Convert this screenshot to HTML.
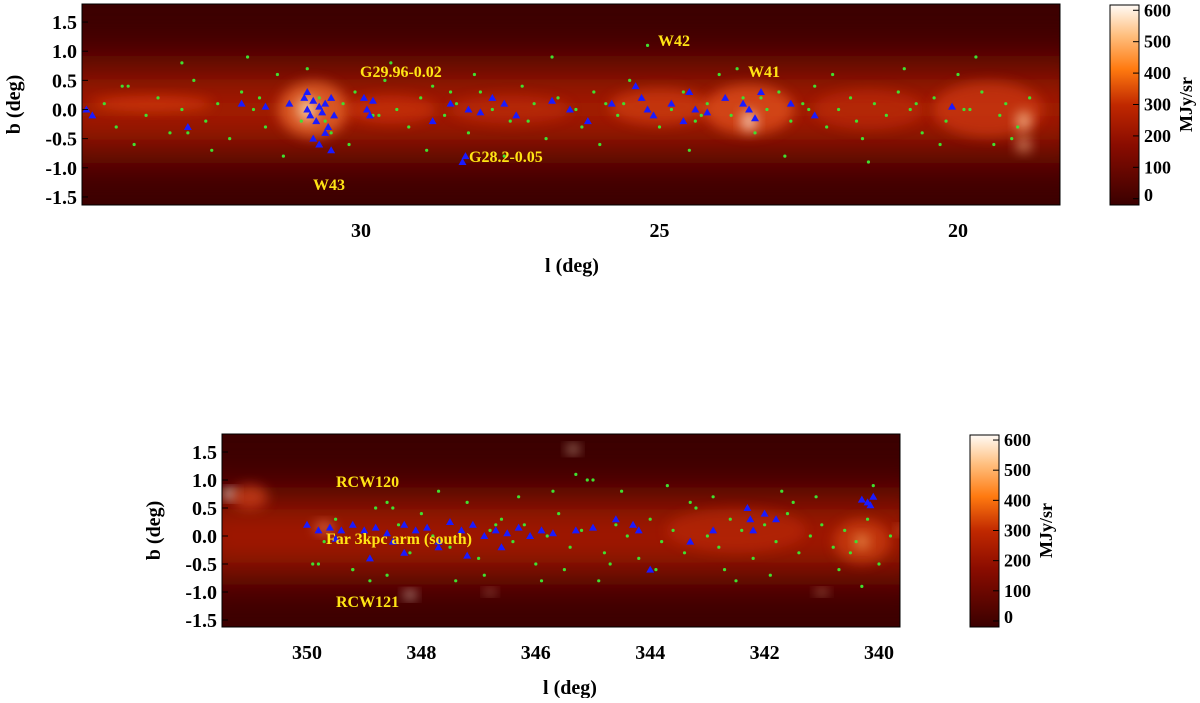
<!DOCTYPE html>
<html><head><meta charset="utf-8">
<style>
body{margin:0;background:#fff;width:1200px;height:698px;overflow:hidden;font-family:"Liberation Serif",serif;font-weight:bold}
svg text{font-family:"Liberation Serif",serif;font-weight:bold}
</style></head>
<body>
<svg id="fig" width="1200" height="698" viewBox="0 0 1200 698" xmlns="http://www.w3.org/2000/svg">
<defs>
<filter id="blur8" x="-50%" y="-50%" width="200%" height="200%"><feGaussianBlur stdDeviation="6"/></filter>
<filter id="blur20" x="-50%" y="-50%" width="200%" height="200%"><feGaussianBlur stdDeviation="18"/></filter>
<linearGradient id="cbar" x1="0" y1="1" x2="0" y2="0">
<stop offset="0" stop-color="#3a0000"/><stop offset="0.3" stop-color="#8a0c00"/><stop offset="0.5" stop-color="#c02800"/>
<stop offset="0.68" stop-color="#ff7a10"/><stop offset="0.85" stop-color="#ffc080"/><stop offset="1" stop-color="#fffaf5"/></linearGradient>
<linearGradient id="bandT" x1="0" y1="0" x2="0" y2="1">
<stop offset="0" stop-color="#3c0000"/><stop offset="0.25" stop-color="#760c00"/><stop offset="0.5" stop-color="#b82200"/>
<stop offset="0.75" stop-color="#760c00"/><stop offset="1" stop-color="#3c0000"/></linearGradient>
<clipPath id="clipT"><rect x="82" y="4" width="978" height="201"/></clipPath>
<clipPath id="clipB"><rect x="222" y="434" width="678" height="193"/></clipPath>
</defs>
<g id="top"></g>
<g id="bot"></g>
</svg>
<script>
// ---- Top panel data (l, b in degrees) ----
const topGreenL=[34.3,34.1,33.9,33.6,33.4,33.2,33.0,32.8,32.6,32.4,32.2,32.0,31.8,31.6,31.4,31.2,31.0,30.7,30.5,30.3,30.1,29.8,29.6,29.4,29.2,29.0,28.8,28.6,28.4,28.2,28.0,27.8,27.5,27.3,27.1,26.9,26.7,26.5,26.3,26.1,25.9,25.7,25.5,25.3,25.0,24.8,24.6,24.4,24.2,24.0,23.8,23.6,23.4,23.2,23.0,22.8,22.6,22.4,22.2,22.0,21.8,21.6,21.4,21.2,21.0,20.8,20.6,20.4,20.2,20.0,19.8,19.6,19.4,19.2,19.0,18.8,33.8,33.0,32.5,31.9,31.3,30.9,30.2,29.5,28.9,28.1,27.6,26.8,26.0,25.2,24.5,23.7,22.9,22.1,21.5,20.9,20.3,19.7,19.1,34.0,32.9,31.7,30.6,29.7,28.5,27.2,26.4,25.6,24.3,23.3,22.5,21.7,20.7,19.9,19.3];
const topGreenB=[0.1,-0.3,0.4,-0.1,0.2,-0.4,0.0,0.5,-0.2,0.1,-0.5,0.3,0.0,-0.3,0.6,0.1,-0.2,0.2,-0.4,0.1,0.3,-0.1,0.5,0.0,-0.3,0.2,0.4,-0.1,0.1,-0.4,0.3,0.0,-0.2,0.4,0.1,-0.5,0.2,0.0,-0.3,0.3,0.1,-0.1,0.5,0.2,-0.3,0.0,0.3,-0.2,0.1,0.6,-0.1,0.2,-0.4,0.0,0.3,-0.2,0.1,0.4,-0.3,0.0,0.2,-0.5,0.1,-0.1,0.3,0.0,-0.4,0.2,-0.2,0.6,0.0,0.3,-0.6,0.1,-0.3,0.2,-0.6,0.8,-0.7,0.9,-0.8,0.7,-0.6,0.8,-0.7,0.6,-0.8,0.9,-0.6,1.1,-0.7,0.7,-0.8,0.6,-0.9,0.7,-0.6,0.9,-0.5,0.4,-0.4,0.2,-0.2,-0.1,0.3,-0.2,0.0,0.1,-0.1,0.2,0.0,-0.2,0.1,0.0,-0.1,0.2];
const topBlueL=[34.6,34.5,32.9,32.0,31.6,31.2,30.95,30.9,30.85,30.8,30.75,30.7,30.65,30.6,30.55,30.5,30.45,30.8,30.7,30.6,30.5,30.9,29.95,29.9,29.85,29.8,28.8,28.5,28.3,28.25,28.2,28.0,27.8,27.6,27.4,26.8,26.5,26.2,25.8,25.4,25.3,25.2,25.1,24.8,24.6,24.5,24.4,24.2,23.9,23.6,23.5,23.4,23.3,22.8,22.4,20.1];
const topBlueB=[0.0,-0.1,-0.3,0.1,0.05,0.1,0.2,0.0,-0.1,0.15,-0.2,0.05,-0.05,0.1,-0.3,0.2,-0.1,-0.5,-0.6,-0.4,-0.7,0.3,0.2,0.0,-0.1,0.15,-0.2,0.1,-0.9,-0.8,0.0,-0.05,0.2,0.1,-0.1,0.15,0.0,-0.2,0.1,0.4,0.2,0.0,-0.1,0.1,-0.2,0.3,0.0,-0.05,0.2,0.1,0.0,-0.15,0.3,0.1,-0.1,0.05];
// ---- Bottom panel data ----
const botGreenL=[349.9,349.7,349.5,349.2,349.0,348.8,348.6,348.4,348.2,348.0,347.8,347.5,347.2,347.0,346.8,346.6,346.4,346.2,346.0,345.8,345.6,345.4,345.2,345.0,344.8,344.6,344.4,344.2,344.0,343.8,343.6,343.4,343.2,343.0,342.8,342.6,342.4,342.2,342.0,341.8,341.6,341.4,341.2,341.0,340.8,340.6,340.4,340.2,340.0,339.8,348.6,348.5,349.2,348.9,345.3,345.1,346.7,345.9,344.5,343.9,342.9,341.9,341.1,340.3,347.4,346.3,345.5,344.7,343.3,342.5,341.5,340.7,340.1,349.8,347.7,346.9,345.7,344.9,343.7,342.7,341.7,340.5];
const botGreenB=[-0.5,-0.1,0.3,-0.6,0.1,0.5,-0.7,0.2,-0.3,0.4,0.0,-0.2,0.6,-0.4,0.1,0.3,-0.1,0.2,-0.5,0.0,0.4,-0.2,0.1,1.0,-0.3,0.2,0.0,-0.4,0.3,-0.1,0.1,-0.3,0.5,0.0,-0.2,0.3,0.1,-0.4,0.2,-0.1,0.4,-0.3,0.0,0.2,-0.2,0.1,-0.1,0.3,-0.5,0.0,0.6,0.5,-0.6,-0.8,1.1,1.0,0.2,-0.8,0.8,-0.6,0.7,-0.7,0.7,-0.9,-0.8,0.7,-0.6,-0.5,0.6,-0.8,0.6,-0.6,0.9,-0.5,0.8,-0.7,0.8,-0.8,0.9,-0.6,0.8,-0.3];
const botBlueL=[350.0,349.8,349.6,349.4,349.2,349.0,348.8,348.6,348.5,348.3,348.1,347.9,347.7,347.5,347.3,347.1,346.9,346.7,346.5,346.3,346.1,345.9,345.7,345.3,345.0,344.6,344.3,344.2,344.0,343.3,342.9,342.3,342.25,342.2,342.0,341.8,340.3,340.2,340.15,340.1,349.5,348.9,348.3,347.7,347.2,346.6];
const botBlueB=[0.2,0.1,0.15,0.1,0.2,0.1,0.15,0.05,-0.1,0.2,0.1,0.15,-0.2,0.25,0.1,0.2,0.0,0.1,0.05,0.15,0.0,0.1,0.05,0.1,0.15,0.3,0.2,0.1,-0.6,-0.1,0.1,0.5,0.3,0.1,0.4,0.3,0.65,0.6,0.55,0.7,-0.05,-0.4,-0.3,-0.1,-0.35,-0.2];
const cbTicks=[0,100,200,300,400,500,600];
const topYTicks=[1.5,1.0,0.5,0.0,-0.5,-1.0,-1.5];
const topXTicks=[30,25,20];
const botXTicks=[350,348,346,344,342,340];
const NS="http://www.w3.org/2000/svg";
function mk(tag,attrs,parent){const e=document.createElementNS(NS,tag);for(const k in attrs)e.setAttribute(k,attrs[k]);parent.appendChild(e);return e;}
function txt(s,x,y,size,parent,anchor,fill){const t=mk('text',{x:x,y:y,'font-size':size,'text-anchor':anchor||'middle',fill:fill||'#000'},parent);t.textContent=s;return t;}

function panel(g,P){
  const X=l=>P.x0+(P.l0-l)*P.sx, Y=b=>P.y0-b*P.sy;
  const img=mk('g',{'clip-path':P.clip},g);
  
  
  mk('rect',{x:P.L,y:P.T,width:P.W,height:P.H,fill:'#3c0000'},img);
  mk('rect',{x:P.L-30,y:Y(P.bw),width:P.W+60,height:Y(-P.bw)-Y(P.bw),fill:'url(#bandT)',filter:'url(#blur20)'},img);
  P.blobs.forEach(bb=>mk('ellipse',{cx:X(bb[0]),cy:Y(bb[1]),rx:bb[2],ry:bb[3],fill:bb[4],opacity:bb[5],filter:'url(#blur8)'},img));
  const gg=mk('g',{},img);
  
  
  P.gl.forEach((l,i)=>{const c=mk('circle',{cx:X(l),cy:Y(P.gb[i]),r:1.6,fill:'#40e030'},gg);
    
    });
  const bg=mk('g',{},img);
  
  
  P.bl.forEach((l,i)=>{const x=X(l),y=Y(P.bb[i]);const p=mk('polygon',{points:`${x},${y-4} ${x-4},${y+3} ${x+4},${y+3}`,fill:'#1a1aff'},bg);
    
    });
  const fr=mk('rect',{x:P.L,y:P.T,width:P.W,height:P.H,fill:'none',stroke:'#000','stroke-width':1},g);
  
  
  topYTicks.forEach(b=>{const t=txt(b.toFixed(1),P.L-5,Y(b)+7,20,g,'end');
    
    
    mk('line',{x1:P.L,x2:P.L+6,y1:Y(b),y2:Y(b),stroke:'#000'},g);});
  P.xt.forEach(l=>{const t=txt(String(l),X(l),P.T+P.H+32,20,g);
    
    });
  const yt=txt('b (deg)',0,0,20,g);yt.setAttribute('transform',`translate(${P.L-62},${P.T+P.H/2}) rotate(-90)`);
  
  
  const xt=txt('l (deg)',P.xtitle,P.T+P.H+67,20,g);
  
  
  P.labels.forEach(a=>{const t=txt(a[0],a[1],a[2],16,g,'start','#ffe414');
    
    });
  const cb=mk('rect',{x:P.cbx,y:P.T+1,width:29,height:P.H-1,fill:'url(#cbar)',stroke:'#000'},g);
  
  
  cbTicks.forEach(v=>{const y=P.T+P.H-(v+20)/640*P.H; const ty=v===0?P.T+P.H-4:y+6;
    const t=txt(String(v),P.cbx+34,ty,18,g,'start');
    
    
    mk('line',{x1:P.cbx+23,x2:P.cbx+29,y1:y,y2:y,stroke:'#000'},g);});
  const u=txt('MJy/sr',0,0,18,g);u.setAttribute('transform',`translate(${P.cbx+82},${P.T+P.H/2}) rotate(-90)`);
  
  
}
panel(document.getElementById('top'),{L:82,T:4,W:978,H:201,x0:361,l0:30,sx:59.7,y0:109.5,sy:58.3,clip:'url(#clipT)',bw:1.2,
  gl:topGreenL,gb:topGreenB,bl:topBlueL,bb:topBlueB,xt:topXTicks,xtitle:572,cbx:1110,
  blobs:[[33.5,0.1,60,8,'#e04010',0.6],[30.8,0.0,35,28,'#f07030',0.7],[30.9,0.0,10,12,'#ffe8c0',0.7],[29.5,0.0,45,14,'#d83810',0.55],
   [27.5,0.0,60,14,'#c83010',0.5],[25.0,0.05,50,18,'#e04818',0.55],[23.5,0.0,45,25,'#ec5a20',0.65],[23.5,-0.2,8,10,'#fff0e0',0.7],
   [21.5,0.0,55,20,'#c83010',0.5],[19.5,0.0,55,28,'#d84018',0.6],[18.9,-0.2,8,10,'#ffd0a0',0.7],[18.9,-0.6,8,8,'#ffc090',0.6]],
  labels:[['G29.96-0.02',360,77],['W43',313,190],['G28.2-0.05',469,162],['W42',658,46],['W41',748,77]]});
panel(document.getElementById('bot'),{L:222,T:434,W:678,H:193,x0:307,l0:350,sx:57.2,y0:536,sy:56,clip:'url(#clipB)',bw:1.1,
  gl:botGreenL,gb:botGreenB,bl:botBlueL,bb:botBlueB,xt:botXTicks,xtitle:570,cbx:970,
  blobs:[[351.35,0.75,7,5,'#ffffff',0.9],[351.0,0.7,18,12,'#e85020',0.6],[349.7,0.15,10,6,'#ff9060',0.6],[345.35,1.55,6,4,'#ffe0c0',0.8],
   [342.5,0.1,70,22,'#c83010',0.45],[340.3,-0.1,28,22,'#e05018',0.55],[340.3,-0.1,7,7,'#ffc070',0.6],
   [348.2,-1.05,6,4,'#fff0e0',0.85],[341.0,-1.0,6,3,'#ffd0a0',0.7],[339.6,0.1,5,4,'#ff9050',0.8],[346.8,-1.0,5,3,'#ffd0b0',0.7]],
  labels:[['RCW120',336,487],['Far 3kpc arm (south)',326,544],['RCW121',336,607]]});
</script>
</body></html>
